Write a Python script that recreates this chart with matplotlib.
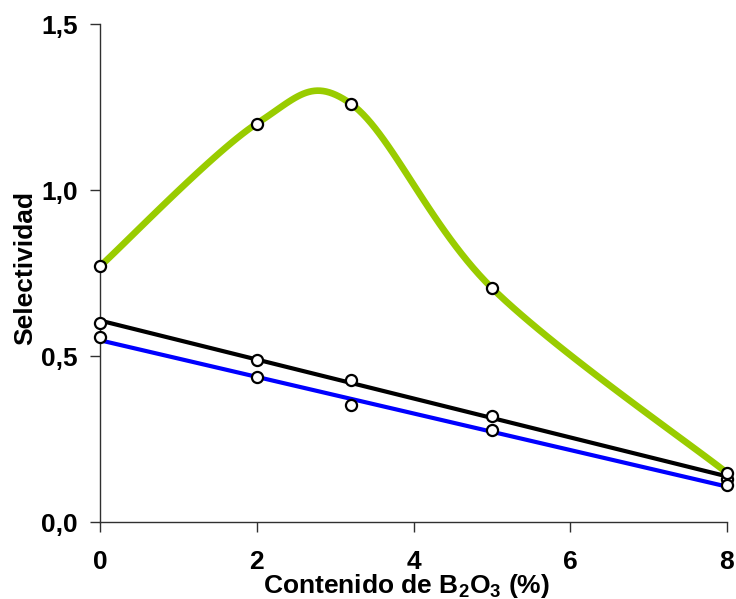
import numpy as np
import matplotlib
matplotlib.use("Agg")
import matplotlib.pyplot as plt
from matplotlib.ticker import FuncFormatter

# datos
boro = [0, 2, 3.2, 5, 8]
sel_verde = [0.77, 1.20, 1.26, 0.705, 0.148]
sel_negro = [0.60, 0.488, 0.428, 0.32, 0.13]
sel_azul = [0.557, 0.437, 0.352, 0.277, 0.111]

x_ticks = [0, 2, 4, 6, 8]
y_ticks = [0.0, 0.5, 1.0, 1.5]


def excel_smooth(x, y, n=30):
    # curva suavizada tipo Excel (Bezier con tension 1/6)
    p = np.column_stack([x, y]).astype(float)
    out = []
    for i in range(len(p) - 1):
        p0 = p[i - 1] if i > 0 else p[i]
        p3 = p[i + 2] if i + 2 < len(p) else p[i + 1]
        c1 = p[i] + (p[i + 1] - p0) / 6.0
        c2 = p[i + 1] - (p3 - p[i]) / 6.0
        t = np.linspace(0, 1, n)[:, None]
        seg = ((1 - t) ** 3 * p[i] + 3 * (1 - t) ** 2 * t * c1
               + 3 * (1 - t) * t ** 2 * c2 + t ** 3 * p[i + 1])
        out.append(seg if i == 0 else seg[1:])
    out = np.vstack(out)
    return out[:, 0], out[:, 1]


plt.rcParams['font.family'] = ['Liberation Sans', 'DejaVu Sans']
plt.rcParams['font.weight'] = 'bold'
plt.rcParams['mathtext.fontset'] = 'custom'
plt.rcParams['mathtext.rm'] = 'Liberation Sans:bold'
plt.rcParams['mathtext.it'] = 'Liberation Sans:bold'
plt.rcParams['mathtext.bf'] = 'Liberation Sans:bold'

fig = plt.figure(figsize=(7.36, 5.99), dpi=100)
ax = fig.add_axes([100 / 736, 1 - 522 / 599, 627 / 736, 498 / 599])

xs = np.linspace(0, 8, 50)
kn = np.polyfit(boro, sel_negro, 1)
ka = np.polyfit(boro, sel_azul, 1)
ax.plot(xs, np.polyval(kn, xs), color='black', lw=3.0, clip_on=False, zorder=2)
ax.plot(xs, np.polyval(ka, xs), color='#0000FF', lw=3.0, clip_on=False, zorder=3)
gx, gy = excel_smooth(boro, sel_verde)
ax.plot(gx, gy, color='#99CC00', lw=4.8, clip_on=False, zorder=4)

for serie in [sel_negro, sel_azul, sel_verde]:
    ax.plot(boro, serie, 'o', ms=8, mfc='white', mec='black', mew=1.6,
            clip_on=False, zorder=5)

ax.set_xlim(0, 8)
ax.set_ylim(0, 1.5)
ax.set_xticks(x_ticks)
ax.set_yticks(y_ticks)
ax.yaxis.set_major_formatter(FuncFormatter(lambda v, p: f"{v:.1f}".replace('.', ',')))
ax.xaxis.set_major_formatter(FuncFormatter(lambda v, p: f"{v:.0f}"))

for s in ['top', 'right']:
    ax.spines[s].set_visible(False)
ax.spines['left'].set_color('#303030')
ax.spines['bottom'].set_color('#303030')
ax.spines['left'].set_linewidth(1.0)
ax.spines['bottom'].set_linewidth(1.0)

ax.tick_params(axis='both', direction='out', length=7, width=1.0, color='#303030',
               labelsize=19)
ax.tick_params(axis='x', pad=13)
ax.tick_params(axis='y', pad=9)

ax.set_ylabel('Selectividad', fontsize=19, fontweight='bold')
ax.yaxis.set_label_coords(-0.1, 0.51)
ax.set_xlabel(r'Contenido de B$_2$O$_3$ (%)', fontsize=19, fontweight='bold')
ax.xaxis.set_label_coords(0.488, -0.1)
ax.xaxis.label.set_va('top')

fig.savefig('out.png', dpi=100)
